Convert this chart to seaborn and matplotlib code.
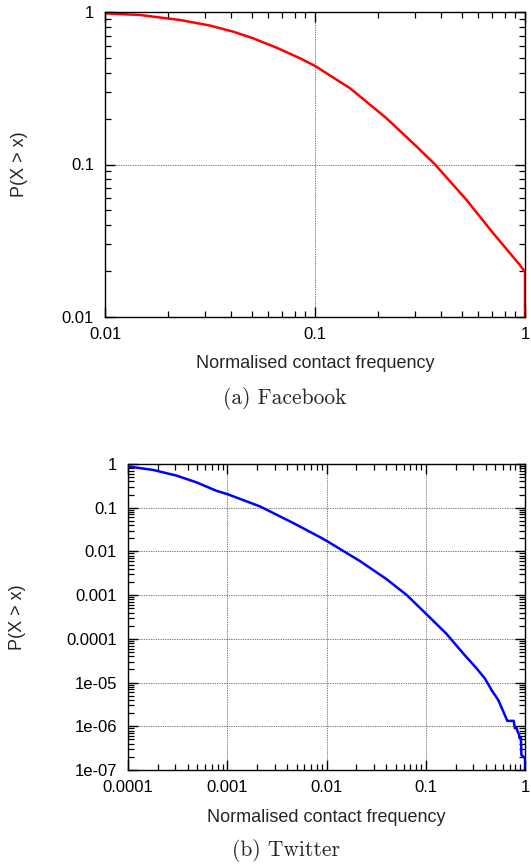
import matplotlib
matplotlib.use("Agg")
import matplotlib.pyplot as plt
import matplotlib.ticker as mticker
import numpy as np
import seaborn as sns
import pandas as pd

# Facebook CCDF
fb_x = [0.01, 0.0147, 0.0228, 0.0316, 0.0408, 0.0508, 0.0657, 0.0849, 0.1,
        0.147, 0.219, 0.305, 0.373, 0.527, 0.706, 0.946, 1.0, 1.0]
fb_y = [0.98, 0.956, 0.886, 0.815, 0.743, 0.672, 0.583, 0.497, 0.443,
        0.316, 0.201, 0.131, 0.1, 0.0585, 0.0354, 0.0219, 0.0197, 0.01]

# Twitter CCDF
tw_x = [0.0001, 0.00018, 0.00031, 0.00049, 0.00078, 0.001, 0.00214, 0.0046, 0.0086, 0.01,
        0.0218, 0.0404, 0.0645, 0.1, 0.162, 0.239, 0.326, 0.395, 0.461, 0.538, 0.605,
        0.664, 0.77, 0.79, 0.83, 0.84, 0.87, 0.88, 0.91, 0.92, 0.97, 1.0, 1.0]
tw_y = [0.88, 0.73, 0.54, 0.38, 0.243, 0.205, 0.107, 0.0449, 0.0212, 0.0175,
        0.006, 0.00231, 0.001, 3.8e-4, 1.3e-4, 4.6e-5, 2.1e-5, 1.23e-5, 6.7e-6, 3.98e-6, 2.16e-6,
        1.33e-6, 1.33e-6, 9e-7, 9e-7, 7.6e-7, 6.5e-7, 5.4e-7, 5.4e-7, 2.2e-7, 2e-7, 1.8e-7, 1e-7]

fb = pd.DataFrame({"x": fb_x, "y": fb_y})
tw = pd.DataFrame({"x": tw_x, "y": tw_y})

sns.set_style("ticks")
plt.rcParams.update({
    "font.family": ["Liberation Sans", "DejaVu Sans"],
    "axes.edgecolor": "black",
    "axes.linewidth": 1.0,
    "xtick.direction": "in", "ytick.direction": "in",
    "xtick.top": True, "ytick.right": True,
    "xtick.color": "black", "ytick.color": "black",
    "xtick.labelsize": 12, "ytick.labelsize": 12,
    "xtick.major.size": 7, "ytick.major.size": 7,
    "xtick.major.width": 1.0, "ytick.major.width": 1.0,
    "xtick.major.pad": 7, "ytick.major.pad": 8,
})

W, H = 531, 865
fig = plt.figure(figsize=(W / 100, H / 100), dpi=100)
ax1 = fig.add_axes([105 / W, 1 - 317 / H, 420 / W, 305 / H])
ax2 = fig.add_axes([128 / W, 1 - 770 / H, 397 / W, 306 / H])


def is_decade(v):
    e = np.log10(v)
    return abs(e - round(e)) < 1e-6


def tick_locs(lo, hi):
    # decades plus 2..9 in between (gnuplot style log ticks)
    out = []
    d = lo
    while d < hi * 0.999:
        out += [d * k for k in range(1, 10)]
        d *= 10
    return out + [hi]


def style(ax, xlim, ylim, xlab_y, ylab_x):
    ax.set_xscale("log")
    ax.set_yscale("log")
    ax.set_xlim(*xlim)
    ax.set_ylim(*ylim)
    fmt = mticker.FuncFormatter(lambda v, p: ("%g" % v) if is_decade(v) else "")
    for axis, lim in ((ax.xaxis, xlim), (ax.yaxis, ylim)):
        axis.set_major_locator(mticker.FixedLocator(tick_locs(*lim)))
        axis.set_major_formatter(fmt)
        axis.set_minor_locator(mticker.NullLocator())
    ax.grid(True, which="major", linestyle=(0, (1, 1.5)), color="black", linewidth=0.5)
    ax.set_xlabel("Normalised contact frequency", fontsize=13)
    ax.set_ylabel("P(X > x)", fontsize=13)
    ax.xaxis.set_label_coords(0.5, xlab_y)
    ax.xaxis.label.set_verticalalignment("center")
    ax.yaxis.set_label_coords(ylab_x, 0.5)
    ax.yaxis.label.set_verticalalignment("center")


sns.lineplot(data=fb, x="x", y="y", ax=ax1, color="#ff0000", linewidth=1.8,
             estimator=None, sort=False)
style(ax1, (0.01, 1), (0.01, 1), -(364 - 317) / 305, -(105 - 20) / 420)

sns.lineplot(data=tw, x="x", y="y", ax=ax2, color="#0000ff", linewidth=1.8,
             estimator=None, sort=False)
style(ax2, (0.0001, 1), (1e-7, 1), -(817 - 770) / 306, -(128 - 18) / 397)

fig.text(285 / W, 1 - 399 / H, "(a) Facebook", family="cmr10", fontsize=15.5,
         ha="center", va="center")
fig.text(286 / W, 1 - 850 / H, "(b) Twitter", family="cmr10", fontsize=15.5,
         ha="center", va="center")

# shorten the in-between ticks and keep the grid on decades only
fig.canvas.draw()
for ax in (ax1, ax2):
    for axis in (ax.xaxis, ax.yaxis):
        for t in axis.get_major_ticks():
            if not is_decade(t.get_loc()):
                t.tick1line.set_markersize(4)
                t.tick2line.set_markersize(4)
                t.tick1line.set_markeredgewidth(0.9)
                t.tick2line.set_markeredgewidth(0.9)
                t.gridline.set_visible(False)

fig.savefig("out.png", dpi=100)
